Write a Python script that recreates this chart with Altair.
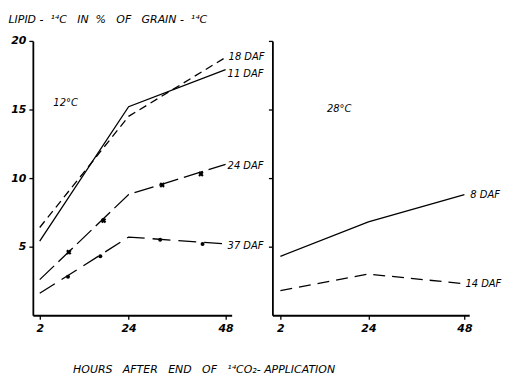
import altair as alt
import pandas as pd

FONT = "DejaVu Sans"

hours = [2, 24, 48]
vals_11 = [5.4, 15.2, 17.9]
vals_18 = [6.4, 14.5, 18.8]
vals_24 = [2.6, 8.8, 11.0]
vals_37 = [1.6, 5.7, 5.2]
vals_8 = [4.3, 6.8, 8.8]
vals_14 = [1.8, 3.0, 2.3]
marker24_h = [9.2, 17.8, 32.3, 41.9]
marker24_v = [4.6, 6.9, 9.5, 10.3]
marker37_h = [9.0, 17.0, 31.8, 42.3]
marker37_v = [2.8, 4.3, 5.5, 5.2]
y_ticks = [5, 10, 15, 20]
x_ticks = [2, 24, 48]

S = "\u00a0"
y_title = f"LIPID{S}- {S}\u00b9\u2074C{S}{S} IN{S}{S}%{S}{S} OF{S}{S} GRAIN{S}- {S}\u00b9\u2074C"
x_title = f"HOURS{S}{S} AFTER{S}{S} END{S}{S} OF{S}{S} \u00b9\u2074CO\u2082-{S}APPLICATION"


def df(h, v, name):
    return pd.DataFrame({"h": h, "v": v, "s": name})


def build_panel(series, markers, labels, panel_label, x_dom, show_labels):
    x_axis = alt.Axis(values=x_ticks, title=x_title if show_labels else None,
                      titleX=40, titleY=55, titleAlign="left", titleBaseline="middle",
                      titleAngle=0)
    y_axis = alt.Axis(values=y_ticks, labels=show_labels,
                      title=y_title if show_labels else None,
                      titleAngle=0, titleX=-25, titleY=-22, titleAlign="left",
                      titleBaseline="middle")
    x = alt.X("h:Q", scale=alt.Scale(domain=x_dom, nice=False, zero=False), axis=x_axis)
    y = alt.Y("v:Q", scale=alt.Scale(domain=[0, 20], nice=False), axis=y_axis)
    layers = []
    for name, h, v, dash in series:
        kw = dict(color="black", strokeWidth=1.3)
        if dash:
            kw["strokeDash"] = dash
        layers.append(alt.Chart(df(h, v, name)).mark_line(**kw).encode(x=x, y=y))
    for h, v, kind in markers:
        if kind == "x":
            layers.append(alt.Chart(df(h, v, "m")).mark_point(
                shape="cross", angle=45, size=30, filled=True, opacity=1,
                color="black").encode(x=x, y=y))
        else:
            layers.append(alt.Chart(df(h, v, "m")).mark_circle(
                size=16, color="black", opacity=1).encode(x=x, y=y))
    for name, h, v, dx, dy in labels:
        d = pd.DataFrame({"h": [h], "v": [v], "t": [name]})
        layers.append(alt.Chart(d).mark_text(
            align="left", baseline="middle", dx=dx, dy=dy, font=FONT,
            fontStyle="italic", fontSize=10, color="black").encode(x=x, y=y, text="t:N"))
    pl = pd.DataFrame({"h": [panel_label[1]], "v": [panel_label[2]], "t": [panel_label[0]]})
    layers.append(alt.Chart(pl).mark_text(
        align="center", baseline="middle", font=FONT, fontStyle="italic",
        fontSize=10, color="black").encode(x=x, y=y, text="t:N"))
    return alt.layer(*layers)


left = build_panel(
    series=[("11 DAF", hours, vals_11, None),
            ("18 DAF", hours, vals_18, [8, 5]),
            ("24 DAF", hours, vals_24, [20, 6]),
            ("37 DAF", hours, vals_37, [18, 8])],
    markers=[(marker24_h, marker24_v, "x"), (marker37_h, marker37_v, "o")],
    labels=[("18 DAF", 48, vals_18[-1], 3, 0),
            ("11 DAF", 48, vals_11[-1], 2, 4),
            ("24 DAF", 48, vals_24[-1], 2, 2),
            ("37 DAF", 48, vals_37[-1], 2, 2)],
    panel_label=("12\u00b0C", 8.4, 15.5),
    x_dom=[0.3, 49.5],
    show_labels=True,
).properties(width=200, height=276)

right = build_panel(
    series=[("8 DAF", hours, vals_8, None),
            ("14 DAF", hours, vals_14, [12, 7])],
    markers=[],
    labels=[("8 DAF", 48, vals_8[-1], 6, 0),
            ("14 DAF", 48, vals_14[-1], 1, 0)],
    panel_label=("28\u00b0C", 16.7, 15.0),
    x_dom=[0.0, 49.2],
    show_labels=False,
).properties(width=198, height=276)

chart = alt.hconcat(left, right, spacing=41, bounds="flush").properties(
    padding={"left": 0, "top": 4, "right": 2, "bottom": 2},
).configure_view(stroke=None).configure_axis(
    grid=False, domainColor="black", domainWidth=1.8, tickColor="black",
    tickSize=4, tickWidth=1.3, labelFont=FONT, labelFontStyle="italic",
    labelFontWeight="bold", labelFontSize=11, labelColor="black", labelPadding=3,
    titleFont=FONT, titleFontStyle="italic", titleFontWeight="normal",
    titleFontSize=11, titleColor="black",
)

chart.save("out.html", embed_options={"renderer": "svg", "actions": False})
